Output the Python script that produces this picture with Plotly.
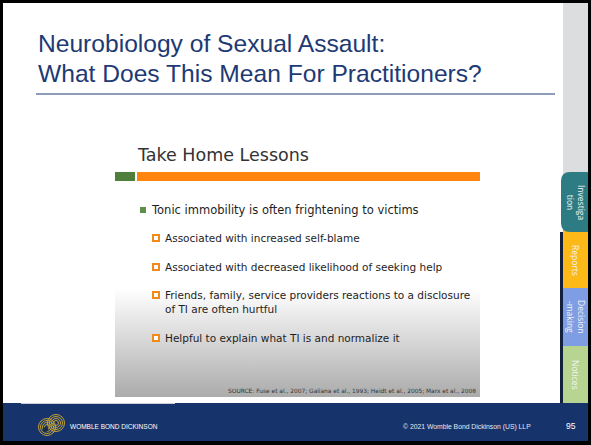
import plotly.graph_objects as go

W, H = 591, 445

title_lines = ["Neurobiology of Sexual Assault:", "What Does This Mean For Practitioners?"]
inner_title = "Take Home Lessons"
main_bullet = "Tonic immobility is often frightening to victims"
sub_bullets = [
    "Associated with increased self-blame",
    "Associated with decreased likelihood of seeking help",
    "Friends, family, service providers reactions to a disclosure<br>of TI are often hurtful",
    "Helpful to explain what TI is and normalize it",
]
sub_bullet_y = [238, 267, 302, 338]
source_text = "SOURCE: Fuse et al., 2007; Galiana et al., 1993; Heidt et al., 2005; Marx et al., 2008"
tab_labels = ["Investiga<br>tion", "Reports", "Decision<br>-making", "Notices"]
tab_colors = ["#2E7C83", "#FDB918", "#7E9DE3", "#B7D591"]
tab_tops = [172, 232, 288, 346]
tab_bottoms = [232, 288, 346, 404]
footer_left = "WOMBLE BOND DICKINSON"
footer_right = "© 2021 Womble Bond Dickinson (US) LLP"
page_number = "95"

NAVY = "#1D3A74"
FOOT = "#17336B"

fig = go.Figure()

# gradient area of embedded slide
fig.add_trace(go.Scatter(
    x=[115, 480, 480, 115, 115], y=[140, 140, 397, 397, 140],
    mode="lines", line=dict(width=0), fill="toself",
    fillgradient=dict(type="vertical", start=140, stop=397,
                      colorscale=[[0, "#FFFFFF"], [0.58, "#FFFFFF"], [1, "#ABABAB"]]),
    hoverinfo="skip", showlegend=False))

shapes = []
shapes.append(dict(type="rect", x0=3, x1=588, y0=3, y1=441, fillcolor="white", line_width=0, layer="below"))
shapes.append(dict(type="rect", x0=563, x1=588, y0=3, y1=403, fillcolor="#DCDDDF", line_width=0, layer="below"))
shapes.append(dict(type="line", x0=36, x1=555, y0=94, y1=94, line=dict(color=NAVY, width=1.2)))
shapes.append(dict(type="rect", x0=115, x1=135, y0=172, y1=181, fillcolor="#4F7F3A", line_width=0))
shapes.append(dict(type="rect", x0=137, x1=480, y0=172, y1=181, fillcolor="#FF850F", line_width=0))
shapes.append(dict(type="rect", x0=140, x1=146, y0=207, y1=213, fillcolor="#5E8F4B", line_width=0))
for y in sub_bullet_y:
    yy = y if y != 302 else 295
    shapes.append(dict(type="rect", x0=153, x1=159, y0=yy - 3, y1=yy + 3, fillcolor="white",
                       line=dict(color="#F28A1A", width=2)))

r = 9
def tab_path(x0, x1, y0, y1, round_top=False):
    if round_top:
        return (f"M {x0},{y0+r} Q {x0},{y0} {x0+r},{y0} L {x1-r},{y0} Q {x1},{y0} {x1},{y0+r} "
                f"L {x1},{y1-r} Q {x1},{y1} {x1-r},{y1} L {x0+r},{y1} Q {x0},{y1} {x0},{y1-r} Z")
    return (f"M {x0},{y0-10} L {x1},{y0-10} L {x1},{y1-r} Q {x1},{y1} {x1-r},{y1} L {x0},{y1} Z")

for i in [3, 2, 1, 0]:
    x0 = 561 if i == 0 else 563
    shapes.append(dict(type="path", path=tab_path(x0, 595, tab_tops[i], tab_bottoms[i], round_top=(i == 0)),
                       fillcolor=tab_colors[i], line_width=0))
shapes.append(dict(type="rect", x0=560, x1=563, y0=232, y1=404, fillcolor="#14213D", line_width=0))
shapes.append(dict(type="rect", x0=588, x1=595, y0=0, y1=445, fillcolor="black", line_width=0))

shapes.append(dict(type="rect", x0=3, x1=588, y0=403, y1=441, fillcolor=FOOT, line_width=0))
shapes.append(dict(type="line", x0=21, x1=175, y0=403.5, y1=403.5, line=dict(color="#C9CCD6", width=1)))
for cx, cy in [(47, 427), (56, 423)]:
    for rr in [2.5, 4.5, 6.5, 8.5]:
        shapes.append(dict(type="circle", x0=cx - rr, x1=cx + rr, y0=cy - rr, y1=cy + rr,
                           line=dict(color="#D6AE2B", width=0.9)))
shapes.append(dict(type="circle", x0=43, x1=48, y0=427, y1=432, fillcolor="#1B2A4A", line_width=0))

annotations = []
annotations.append(dict(x=36, y=43, text=title_lines[0], xanchor="left", yanchor="middle", showarrow=False,
                        font=dict(family="Liberation Sans, Arial", size=24.6, color=NAVY)))
annotations.append(dict(x=36, y=73, text=title_lines[1], xanchor="left", yanchor="middle", showarrow=False,
                        font=dict(family="Liberation Sans, Arial", size=24.6, color=NAVY)))
annotations.append(dict(x=135, y=155, text=inner_title, xanchor="left", yanchor="middle", showarrow=False,
                        font=dict(family="DejaVu Sans", size=17.5, color="#333333")))
annotations.append(dict(x=149, y=210, text=main_bullet, xanchor="left", yanchor="middle", showarrow=False,
                        font=dict(family="DejaVu Sans", size=11.5, color="#1E1E1E")))
for t, y in zip(sub_bullets, sub_bullet_y):
    annotations.append(dict(x=163, y=y, text=t, xanchor="left", yanchor="middle", showarrow=False, align="left",
                            font=dict(family="DejaVu Sans", size=10.5, color="#1E1E1E")))
annotations.append(dict(x=478, y=391, text=source_text, xanchor="right", yanchor="middle", showarrow=False,
                        font=dict(family="DejaVu Sans", size=5.9, color="#333333")))
tab_mid = [(a + b) / 2 for a, b in zip(tab_tops, tab_bottoms)]
for i, t in enumerate(tab_labels):
    annotations.append(dict(x=576, y=tab_mid[i], text=t, textangle=90, showarrow=False,
                            xanchor="center", yanchor="middle",
                            font=dict(family="Open Sans", size=8.5, color="#F4F4F4")))
annotations.append(dict(x=68, y=426, text=footer_left, xanchor="left", yanchor="middle", showarrow=False,
                        font=dict(family="Liberation Sans, Arial", size=6.5, color="white")))
annotations.append(dict(x=533, y=427, text=footer_right, xanchor="right", yanchor="middle", showarrow=False,
                        font=dict(family="Liberation Sans, Arial", size=6.8, color="#E6E8F0")))
annotations.append(dict(x=578, y=426, text=page_number, xanchor="right", yanchor="middle", showarrow=False,
                        font=dict(family="Liberation Sans, Arial", size=8.5, color="white")))

fig.update_layout(
    width=W, height=H, margin=dict(l=0, r=0, t=0, b=0),
    paper_bgcolor="black", plot_bgcolor="rgba(0,0,0,0)",
    xaxis=dict(range=[0, W], visible=False, fixedrange=True),
    yaxis=dict(range=[H, 0], visible=False, fixedrange=True),
    shapes=shapes, annotations=annotations, showlegend=False,
)

fig.write_html("out.html", config={"displayModeBar": False},
               post_script="document.body.style.margin='0';document.body.style.overflow='hidden';")
